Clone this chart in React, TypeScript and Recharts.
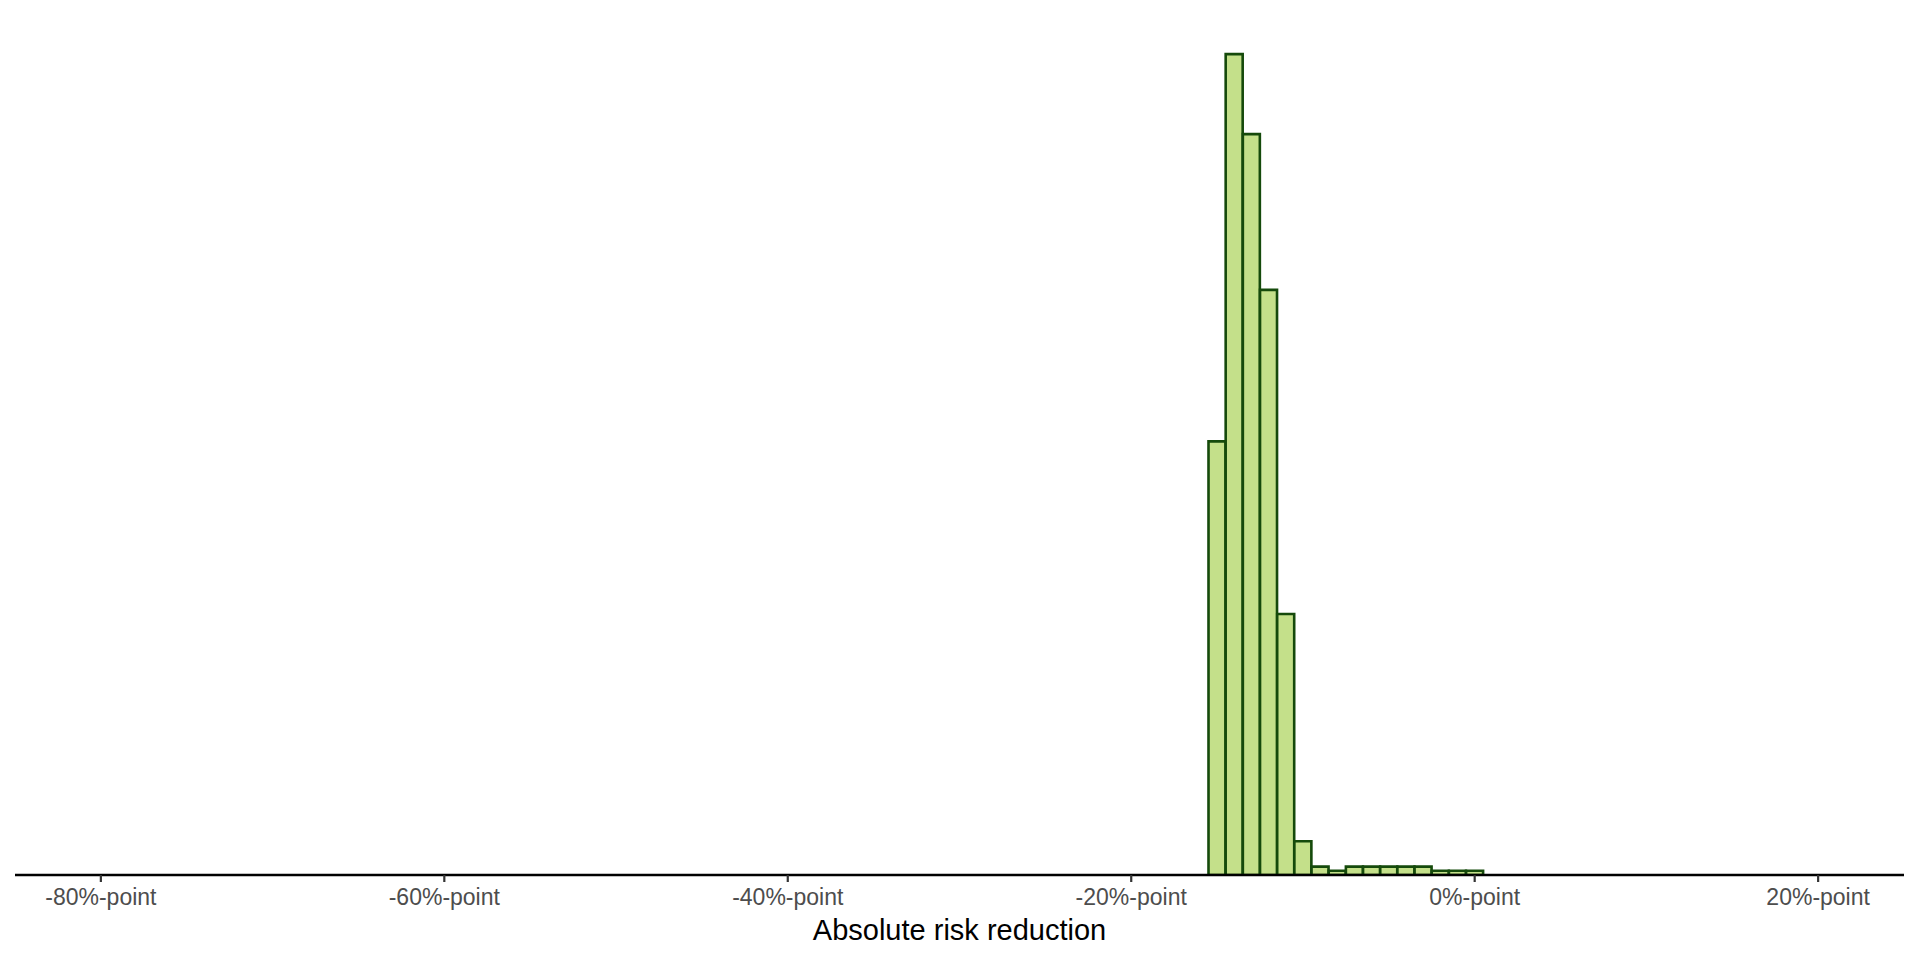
import React from 'react';
import { BarChart, Bar, XAxis, YAxis } from 'recharts';

// histogram bins (centre of each 1 %-point bin) and counts
const binCentres = [-15, -14, -13, -12, -11, -10, -9, -8, -7, -6, -5, -4, -3, -2, -1, 0];
const binCounts = [103, 195, 176, 139, 62, 8, 2, 1, 2, 2, 2, 2, 2, 1, 1, 1];
const xTicks = [-80, -60, -40, -20, 0, 20];
const xDomain = [-85, 25];
const yDomain = [0, 205];

const chartData = binCentres.map((x, i) => ({ x, count: binCounts[i] }));

const FONT = '"Liberation Sans", Arial, Helvetica, sans-serif';

export default function App() {
  return (
    <div style={{ position: 'absolute', left: 0, top: 0, width: 1920, height: 960, background: '#fff' }}>
      <BarChart
        width={1920}
        height={960}
        data={chartData}
        margin={{ top: 12, right: 16, bottom: 0, left: 15 }}
        barCategoryGap={0}
        barGap={0}
      >
        <XAxis
          dataKey="x"
          type="number"
          domain={xDomain}
          allowDataOverflow
          ticks={xTicks}
          interval={0}
          tickFormatter={(v) => `${v}%-point`}
          height={85}
          axisLine={{ stroke: '#000', strokeWidth: 2.4 }}
          tickLine={{ stroke: '#333', strokeWidth: 2.2 }}
          tickSize={7}
          tickMargin={7}
          tick={{ fill: '#4d4d4d', fontSize: 23, fontFamily: FONT }}
          label={{
            value: 'Absolute risk reduction',
            position: 'insideBottom',
            offset: 20,
            fill: '#000',
            fontSize: 29,
            fontFamily: FONT,
          }}
        />
        <YAxis hide domain={yDomain} allowDataOverflow />
        <Bar
          dataKey="count"
          fill="#C4E08A"
          stroke="#154A0B"
          strokeWidth={2.6}
          isAnimationActive={false}
        />
      </BarChart>
    </div>
  );
}
